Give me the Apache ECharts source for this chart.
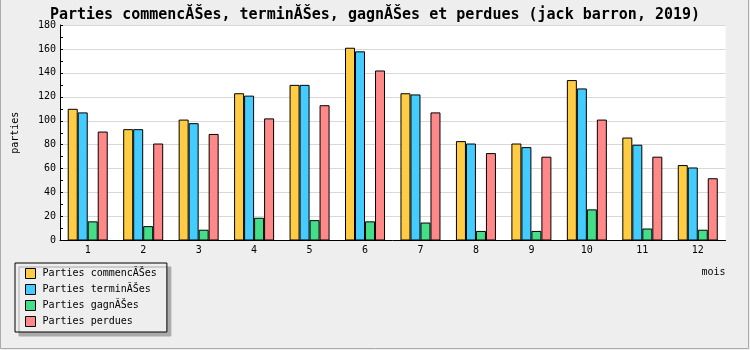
<!DOCTYPE html>
<html>
<head>
<meta charset="utf-8">
<script src="https://cdn.jsdelivr.net/npm/echarts@6/dist/echarts.min.js"></script>
<style>html,body{margin:0;padding:0;background:#eeeeee;}#c{width:750px;height:350px;}</style>
</head>
<body>
<div id="c"></div>
<script>
var months = ['1','2','3','4','5','6','7','8','9','10','11','12'];
var commencees = [110, 93, 101, 123, 130, 161, 123, 83, 81, 134, 86, 63];
var terminees  = [107, 93, 98, 121, 130, 158, 122, 81, 78, 127, 80, 61];
var gagnees    = [16, 12, 9, 19, 17, 16, 15, 8, 8, 26, 10, 9];
var perdues    = [91, 81, 89, 102, 113, 142, 107, 73, 70, 101, 70, 52];
var seriesNames = ['Parties commencĂŠes', 'Parties terminĂŠes', 'Parties gagnĂŠes', 'Parties perdues'];
var colors = ['#ffcc44', '#44ccff', '#44dd88', '#ff8888'];
var titleText = 'Parties commencĂŠes, terminĂŠes, gagnĂŠes et perdues (jack barron, 2019)';

var mono = 'DejaVu Sans Mono';
var chart = echarts.init(document.getElementById('c'));
var data = [commencees, terminees, gagnees, perdues];
var series = data.map(function (d, i) {
  return {
    name: seriesNames[i], type: 'bar', data: d,
    barWidth: 10, barGap: '0%',
    itemStyle: { color: colors[i], borderColor: '#000', borderWidth: 1 }
  };
});
chart.setOption({
  animation: false,
  backgroundColor: '#eeeeee',
  title: {
    text: titleText, left: 'center', top: 3,
    textStyle: { fontFamily: mono, fontWeight: 'bold', fontSize: 15, color: '#000' }
  },
  legend: {
    orient: 'vertical', left: 15, top: 263,
    padding: [5, 10, 5, 10], itemGap: 5, itemWidth: 10, itemHeight: 10,
    icon: 'rect',
    borderColor: '#000', borderWidth: 1, backgroundColor: '#eeeeee',
    shadowColor: '#aaaaaa', shadowBlur: 0, shadowOffsetX: 4, shadowOffsetY: 4,
    itemStyle: { borderColor: '#000', borderWidth: 1 },
    textStyle: { fontFamily: mono, fontSize: 10, color: '#000', padding: [0, 0, 0, 2] },
    data: seriesNames
  },
  grid: {
    left: 60, right: 24.5, top: 25, bottom: 109.5,
    show: true, backgroundColor: '#ffffff', borderWidth: 0
  },
  xAxis: {
    type: 'category', data: months,
    axisLine: { lineStyle: { color: '#000' } },
    axisTick: { inside: true, length: 5, lineStyle: { color: '#000' } },
    axisLabel: { margin: 5, fontFamily: mono, fontSize: 10, color: '#000' },
    name: 'mois', nameLocation: 'end', nameGap: 0,
    nameTextStyle: { fontFamily: mono, fontSize: 10, color: '#000', align: 'right', verticalAlign: 'top', padding: [27, 0, 0, 0] }
  },
  yAxis: {
    type: 'value', min: 0, max: 180, interval: 20,
    axisLine: { show: true, lineStyle: { color: '#000' } },
    axisTick: { show: true, inside: true, length: 3, lineStyle: { color: '#000' } },
    minorTick: { show: true, splitNumber: 2, length: 3, lineStyle: { color: '#000' } },
    splitLine: { lineStyle: { color: '#d8d8d8' } },
    axisLabel: { margin: 4, fontFamily: mono, fontSize: 10, color: '#000' },
    name: 'parties', nameLocation: 'middle', nameRotate: 90, nameGap: 40,
    nameTextStyle: { fontFamily: mono, fontSize: 10, color: '#000' }
  },
  graphic: [{
    type: 'rect', silent: true, z: 100,
    shape: { x: 0.5, y: -5, width: 748, height: 353.5 },
    style: { fill: 'none', stroke: '#aaaaaa', lineWidth: 1 }
  }],
  series: series
});
</script>
</body>
</html>
